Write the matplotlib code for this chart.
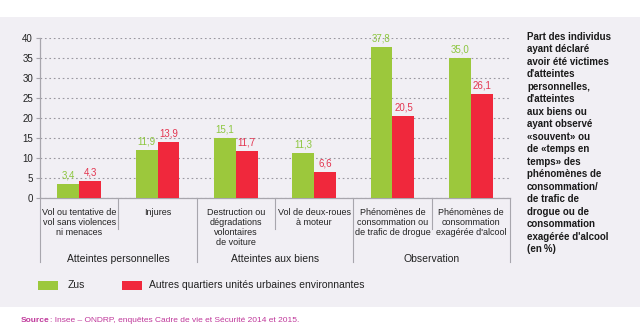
import matplotlib
matplotlib.use("Agg")
import matplotlib.pyplot as plt
from matplotlib.patches import Rectangle
from matplotlib import font_manager

categories = [
    "Vol ou tentative de\nvol sans violences\nni menaces",
    "Injures",
    "Destruction ou\ndégradations\nvolontaires\nde voiture",
    "Vol de deux-roues\nà moteur",
    "Phénomènes de\nconsommation ou\nde trafic de drogue",
    "Phénomènes de\nconsommation\nexagérée d'alcool",
]
groups = ["Atteintes personnelles", "Atteintes aux biens", "Observation"]
zus = [3.4, 11.9, 15.1, 11.3, 37.8, 35.0]
autres = [4.3, 13.9, 11.7, 6.6, 20.5, 26.1]
series_names = ["Zus", "Autres quartiers unités urbaines environnantes"]
yticks = [0, 5, 10, 15, 20, 25, 30, 35, 40]
side_text = ("Part des individus\nayant déclaré\navoir été victimes\nd'atteintes\npersonnelles,\n"
             "d'atteintes\naux biens ou\nayant observé\n«souvent» ou\nde «temps en\ntemps» des\n"
             "phénomènes de\nconsommation/\nde trafic de\ndrogue ou de\nconsommation\n"
             "exagérée d'alcool\n(en\u202f%)")

names = {f.name for f in font_manager.fontManager.ttflist}
narrow = "Liberation Sans Narrow" if "Liberation Sans Narrow" in names else "Liberation Sans"
plt.rcParams['font.family'] = [narrow, "DejaVu Sans"]
REG = ["Liberation Sans", "DejaVu Sans"]

GREEN = "#9cc83c"
RED = "#f0283c"
GREEN_T = "#8cc63f"
RED_T = "#e33550"
BG = "#f1eff4"
GRAYLINE = "#a8a6ad"

fig = plt.figure(figsize=(6.4, 3.3), dpi=100)
fig.patch.set_facecolor("white")
bg = Rectangle((0, 23/330), 1, (307-17)/330, transform=fig.transFigure,
               facecolor=BG, edgecolor="none", zorder=-10)
fig.add_artist(bg)

ax = fig.add_axes([40/640, 1-198/330, 470/640, 160/330])
ax.set_zorder(1)
ax.set_facecolor("none")
n = len(categories)
w = 0.28
xs = list(range(n))
ax.bar([x - w/2 for x in xs], zus, width=w, color=GREEN, zorder=3)
ax.bar([x + w/2 for x in xs], autres, width=w, color=RED, zorder=3)
for x, v in zip(xs, zus):
    ax.annotate(f"{v:.1f}".replace(".", ","), (x - w/2, v), xytext=(0, 2.5),
                textcoords="offset points", ha="center", va="bottom",
                fontsize=7, color=GREEN_T)
for x, v in zip(xs, autres):
    ax.annotate(f"{v:.1f}".replace(".", ","), (x + w/2, v), xytext=(0, 2.5),
                textcoords="offset points", ha="center", va="bottom",
                fontsize=7, color=RED_T)

ax.set_xlim(-0.5, n - 0.5)
ax.set_ylim(0, 40)
ax.set_yticks(yticks)
ax.set_yticklabels([str(t) for t in yticks], fontsize=7, color="#222222", family=REG)
ax.tick_params(axis="y", length=3, color=GRAYLINE, pad=2)
ax.set_xticks([])
ax.yaxis.grid(True, linestyle=(0, (1.5, 2.5)), color="#9a98a0", linewidth=0.8, zorder=1)
for s in ["top", "right"]:
    ax.spines[s].set_visible(False)
for s in ["left", "bottom"]:
    ax.spines[s].set_color(GRAYLINE)
    ax.spines[s].set_linewidth(0.9)

trans = ax.get_xaxis_transform()
for i in range(n + 1):
    xb = i - 0.5
    long = (i % 2 == 0)
    yend = -64/160 if long else -31/160
    ax.plot([xb, xb], [0, yend], transform=trans, color=GRAYLINE, lw=0.8, clip_on=False)

for x, c in zip(xs, categories):
    ax.text(x, -10/160, c, transform=trans, ha="center", va="top", fontsize=6.5,
            color="#222222", linespacing=1.12)
for g, gname in enumerate(groups):
    ax.text(2*g + 0.5, -61/160, gname, transform=trans, ha="center", va="center",
            fontsize=7.5, color="#222222")

# legend
fig.add_artist(Rectangle((38/640, 1-290/330), 20/640, 9/330, transform=fig.transFigure,
                         facecolor=GREEN, edgecolor="none"))
fig.text(68/640, 1-285.5/330, series_names[0], fontsize=7.5, va="center", color="#222222")
fig.add_artist(Rectangle((122/640, 1-290/330), 20/640, 9/330, transform=fig.transFigure,
                         facecolor=RED, edgecolor="none"))
fig.text(149/640, 1-285.5/330, series_names[1], fontsize=7.5, va="center", color="#222222")

# side text
fig.text(527/640, 1-32/330, side_text, fontsize=7, fontweight="bold", va="top", ha="left",
         family=REG, color="#1a1a1a", linespacing=1.31)

# source
src = fig.text(21/640, 1-320/330, "Source", fontsize=6, fontweight="bold", color="#c0389b",
               va="center", family=REG)
fig.canvas.draw()
bb = src.get_window_extent()
fig.text(bb.x1/640, 1-320/330, ": Insee – ONDRP, enquêtes Cadre de vie et Sécurité 2014 et 2015.",
         fontsize=6, color="#c0389b", va="center", family=REG)

fig.savefig("out.png", dpi=100, facecolor="white")
